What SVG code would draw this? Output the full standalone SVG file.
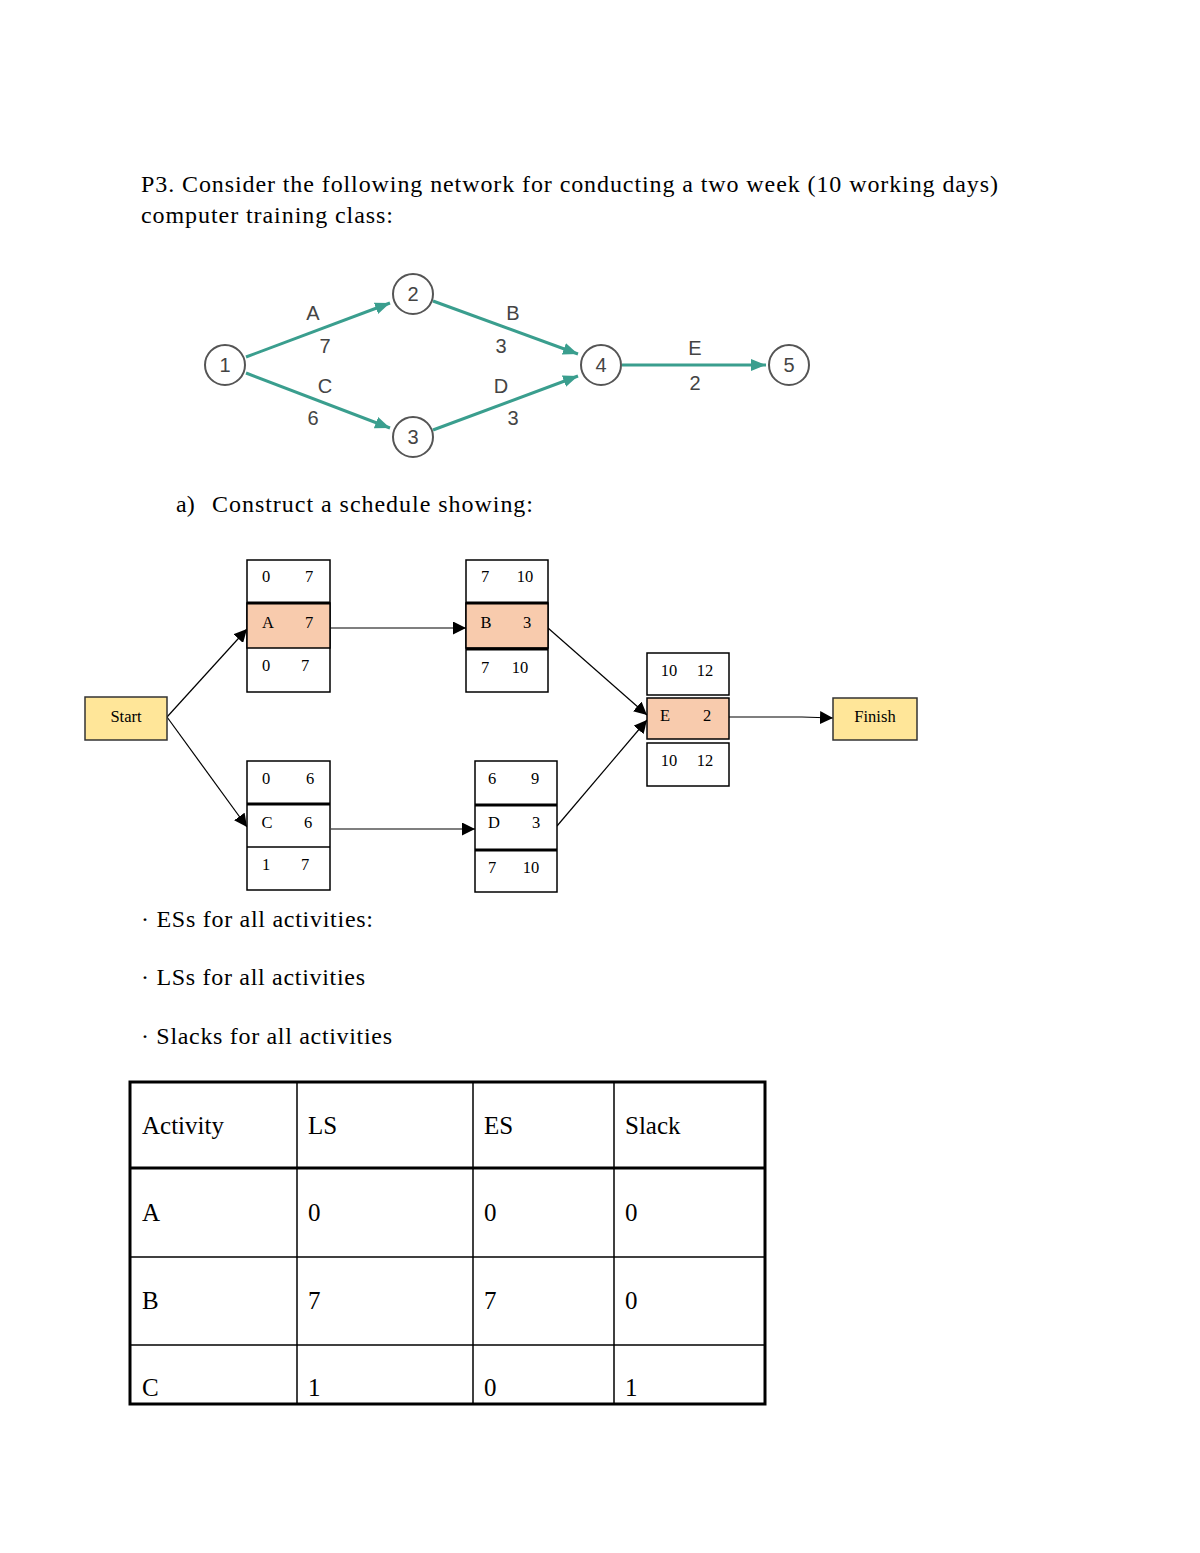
<svg xmlns="http://www.w3.org/2000/svg" width="1200" height="1553" viewBox="0 0 1200 1553">
<defs>
<style>
.t{font-family:"Liberation Serif","Times New Roman",serif;fill:#000}
.h{font-size:24px}
.tt{font-size:25px}
.s{font-size:16.5px}
.net{font-family:"Liberation Sans",Arial,sans-serif;font-size:20px;fill:#444;text-anchor:middle}
.circ{fill:#fff;stroke:#555;stroke-width:2}
.teal{stroke:#3a9e8e;stroke-width:3;fill:none}
.cell{fill:#fff;stroke:#000;stroke-width:1.5}
.pe{fill:#f8cbad;stroke:#000;stroke-width:1.5}
.ye{fill:#ffe699;stroke:#333;stroke-width:1.5}
.ln{stroke:#000;stroke-width:1.2;fill:none}
.thick{stroke:#000;stroke-width:3}
.tb{stroke:#000;stroke-width:1.5}
</style>
<marker id="ta" viewBox="0 0 10 10" refX="10" refY="5" markerWidth="5" markerHeight="5" orient="auto" markerUnits="strokeWidth"><path d="M0,1 L10,5 L0,9 z" fill="#3a9e8e"/></marker>
<marker id="ba" viewBox="0 0 10 10" refX="10" refY="5" markerWidth="13" markerHeight="13" orient="auto" markerUnits="userSpaceOnUse"><path d="M0,0 L10,5 L0,10 z" fill="#000"/></marker>
</defs>
<rect width="1200" height="1553" fill="#fff"/>

<text class="t h" x="141" y="192" textLength="857" lengthAdjust="spacing">P3. Consider the following network for conducting a two week (10 working days)</text>
<text class="t h" x="141" y="223" textLength="252" lengthAdjust="spacing">computer training class:</text>

<g id="net-connectors">
<line class="teal" x1="246" y1="357" x2="390" y2="303" marker-end="url(#ta)"/>
<line class="teal" x1="433" y1="301" x2="578" y2="354" marker-end="url(#ta)"/>
<line class="teal" x1="246" y1="373" x2="390" y2="428" marker-end="url(#ta)"/>
<line class="teal" x1="433" y1="430" x2="578" y2="376" marker-end="url(#ta)"/>
<line class="teal" x1="622" y1="365" x2="766" y2="365" marker-end="url(#ta)"/>
</g>
<g id="n1"><circle class="circ" cx="225" cy="365" r="20"/><text class="net" x="225" y="372">1</text></g>
<g id="n2"><circle class="circ" cx="413" cy="294" r="20"/><text class="net" x="413" y="301">2</text></g>
<g id="n3"><circle class="circ" cx="413" cy="437" r="20"/><text class="net" x="413" y="444">3</text></g>
<g id="n4"><circle class="circ" cx="601" cy="365" r="20"/><text class="net" x="601" y="372">4</text></g>
<g id="n5"><circle class="circ" cx="789" cy="365" r="20"/><text class="net" x="789" y="372">5</text></g>
<g id="net-labels">
<text class="net" x="313" y="320">A</text><text class="net" x="325" y="353">7</text>
<text class="net" x="513" y="320">B</text><text class="net" x="501" y="353">3</text>
<text class="net" x="325" y="393">C</text><text class="net" x="313" y="425">6</text>
<text class="net" x="501" y="393">D</text><text class="net" x="513" y="425">3</text>
<text class="net" x="695" y="355">E</text><text class="net" x="695" y="390">2</text>
</g>

<text class="t h" x="176" y="512">a)</text>
<text class="t h" x="212" y="512" textLength="321" lengthAdjust="spacing">Construct a schedule showing:</text>

<g id="aon-connectors">
<line class="ln" x1="167" y1="717" x2="247" y2="629" marker-end="url(#ba)"/>
<line class="ln" x1="167" y1="717" x2="247" y2="827" marker-end="url(#ba)"/>
<line class="ln" x1="331" y1="628" x2="466" y2="628" marker-end="url(#ba)"/>
<line class="ln" x1="331" y1="829" x2="475" y2="829" marker-end="url(#ba)"/>
<line class="ln" x1="548" y1="628" x2="647" y2="715" marker-end="url(#ba)"/>
<line class="ln" x1="557" y1="826" x2="647" y2="720" marker-end="url(#ba)"/>
<polyline class="ln" points="729,717 802,717 833,718" marker-end="url(#ba)"/>
</g>

<g id="start"><rect class="ye" x="85" y="697" width="82" height="43"/><text class="t s" x="126" y="722" text-anchor="middle">Start</text></g>
<g id="finish"><rect class="ye" x="833" y="698" width="84" height="42"/><text class="t s" x="875" y="722" text-anchor="middle">Finish</text></g>

<g id="nodeA">
<rect class="cell" x="247" y="560" width="83" height="132"/>
<rect class="pe" x="247" y="603" width="83" height="45"/>
<line class="thick" x1="247" y1="603" x2="330" y2="603"/>
<text class="t s" x="266" y="582" text-anchor="middle">0</text><text class="t s" x="309" y="582" text-anchor="middle">7</text>
<text class="t s" x="268" y="628" text-anchor="middle">A</text><text class="t s" x="309" y="628" text-anchor="middle">7</text>
<text class="t s" x="266" y="671" text-anchor="middle">0</text><text class="t s" x="305" y="671" text-anchor="middle">7</text>
</g>
<g id="nodeB">
<rect class="cell" x="466" y="560" width="82" height="132"/>
<rect class="pe" x="466" y="603" width="82" height="45"/>
<line class="thick" x1="466" y1="603" x2="548" y2="603"/>
<line class="thick" x1="466" y1="649" x2="548" y2="649"/>
<text class="t s" x="485" y="582" text-anchor="middle">7</text><text class="t s" x="525" y="582" text-anchor="middle">10</text>
<text class="t s" x="486" y="628" text-anchor="middle">B</text><text class="t s" x="527" y="628" text-anchor="middle">3</text>
<text class="t s" x="485" y="673" text-anchor="middle">7</text><text class="t s" x="520" y="673" text-anchor="middle">10</text>
</g>
<g id="nodeC">
<rect class="cell" x="247" y="761" width="83" height="129"/>
<line class="thick" x1="247" y1="804" x2="330" y2="804"/>
<line class="tb" x1="247" y1="847" x2="330" y2="847"/>
<text class="t s" x="266" y="784" text-anchor="middle">0</text><text class="t s" x="310" y="784" text-anchor="middle">6</text>
<text class="t s" x="267" y="828" text-anchor="middle">C</text><text class="t s" x="308" y="828" text-anchor="middle">6</text>
<text class="t s" x="266" y="870" text-anchor="middle">1</text><text class="t s" x="305" y="870" text-anchor="middle">7</text>
</g>
<g id="nodeD">
<rect class="cell" x="475" y="761" width="82" height="131"/>
<line class="thick" x1="475" y1="805" x2="557" y2="805"/>
<line class="thick" x1="475" y1="850" x2="557" y2="850"/>
<text class="t s" x="492" y="784" text-anchor="middle">6</text><text class="t s" x="535" y="784" text-anchor="middle">9</text>
<text class="t s" x="494" y="828" text-anchor="middle">D</text><text class="t s" x="536" y="828" text-anchor="middle">3</text>
<text class="t s" x="492" y="873" text-anchor="middle">7</text><text class="t s" x="531" y="873" text-anchor="middle">10</text>
</g>
<g id="nodeE">
<rect class="cell" x="647" y="653" width="82" height="42"/>
<rect class="pe" x="647" y="698" width="82" height="41"/>
<rect class="cell" x="647" y="743" width="82" height="43"/>
<text class="t s" x="669" y="676" text-anchor="middle">10</text><text class="t s" x="705" y="676" text-anchor="middle">12</text>
<text class="t s" x="665" y="721" text-anchor="middle">E</text><text class="t s" x="707" y="721" text-anchor="middle">2</text>
<text class="t s" x="669" y="766" text-anchor="middle">10</text><text class="t s" x="705" y="766" text-anchor="middle">12</text>
</g>

<text class="t h" x="141" y="927" textLength="232" lengthAdjust="spacing">· ESs for all activities:</text>
<text class="t h" x="141" y="985" textLength="224" lengthAdjust="spacing">· LSs for all activities</text>
<text class="t h" x="141" y="1044" textLength="251" lengthAdjust="spacing">· Slacks for all activities</text>

<g id="table">
<rect x="130" y="1082" width="635" height="322" fill="none" stroke="#000" stroke-width="3"/>
<line class="tb" x1="297" y1="1082" x2="297" y2="1404"/>
<line class="tb" x1="473" y1="1082" x2="473" y2="1404"/>
<line class="tb" x1="614" y1="1082" x2="614" y2="1404"/>
<line class="thick" x1="130" y1="1168" x2="765" y2="1168"/>
<line class="tb" x1="130" y1="1257" x2="765" y2="1257"/>
<line class="tb" x1="130" y1="1345" x2="765" y2="1345"/>
<text class="t tt" x="142" y="1134">Activity</text><text class="t tt" x="308" y="1134">LS</text><text class="t tt" x="484" y="1134">ES</text><text class="t tt" x="625" y="1134">Slack</text>
<text class="t tt" x="142" y="1221">A</text><text class="t tt" x="308" y="1221">0</text><text class="t tt" x="484" y="1221">0</text><text class="t tt" x="625" y="1221">0</text>
<text class="t tt" x="142" y="1309">B</text><text class="t tt" x="308" y="1309">7</text><text class="t tt" x="484" y="1309">7</text><text class="t tt" x="625" y="1309">0</text>
<text class="t tt" x="142" y="1396">C</text><text class="t tt" x="308" y="1396">1</text><text class="t tt" x="484" y="1396">0</text><text class="t tt" x="625" y="1396">1</text>
</g>
</svg>
